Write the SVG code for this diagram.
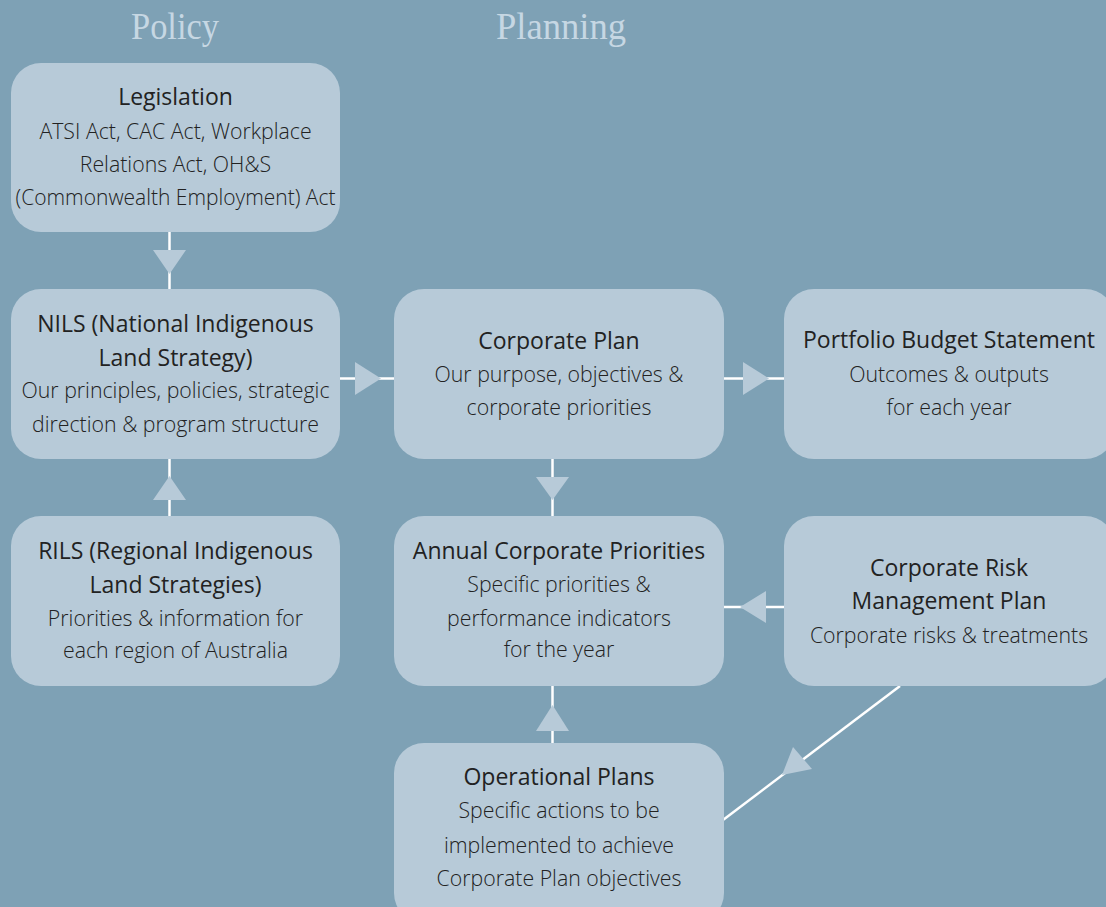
<svg xmlns="http://www.w3.org/2000/svg" width="1106" height="907" viewBox="0 0 1106 907">
<style>
.bg{fill:#7ea1b5}
.box{fill:#b7cad8}
.hdr{font-family:"Liberation Serif",serif;font-size:38px;fill:#c6d7e3;text-anchor:middle}
.t{font-family:"Open Sans","Noto Sans",sans-serif;font-size:21.3px;font-weight:300;fill:#222222;text-anchor:middle}
.b{font-weight:400;font-size:23px}
.ln{stroke:#ffffff;stroke-width:2.5;fill:none}
.ah{fill:#b7cad8}
</style>
<rect class="bg" x="0" y="0" width="1106" height="907"/>
<text class="hdr" x="175" y="39" textLength="88" lengthAdjust="spacingAndGlyphs">Policy</text>
<text class="hdr" x="561" y="39" textLength="130" lengthAdjust="spacingAndGlyphs">Planning</text>
<g id="connectors">
<line class="ln" x1="169.5" y1="232" x2="169.5" y2="289"/>
<polygon class="ah" points="153,250 186,250 169.5,274"/>
<line class="ln" x1="169.5" y1="459" x2="169.5" y2="516"/>
<polygon class="ah" points="153,500 186,500 169.5,476"/>
<line class="ln" x1="340" y1="378.5" x2="394" y2="378.5"/>
<polygon class="ah" points="355,362 355,395 381,378.5"/>
<line class="ln" x1="724" y1="378.5" x2="784" y2="378.5"/>
<polygon class="ah" points="743,362 743,395 769,378.5"/>
<line class="ln" x1="552.5" y1="459" x2="552.5" y2="516"/>
<polygon class="ah" points="536,477 569,477 552.5,500"/>
<line class="ln" x1="724" y1="607" x2="784" y2="607"/>
<polygon class="ah" points="766,591 766,623 740,607"/>
<line class="ln" x1="552.5" y1="686" x2="552.5" y2="743"/>
<polygon class="ah" points="536,731 569,731 552.5,705"/>
<line class="ln" x1="900" y1="686" x2="723" y2="820"/>
<polygon class="ah" points="793,747 812,769 782,775"/>
</g>
<g id="legislation">
<rect class="box" x="11" y="63" width="329" height="169" rx="30"/>
<text class="t b" x="175.5" y="105">Legislation</text>
<text class="t" x="175.5" y="139">ATSI Act, CAC Act, Workplace</text>
<text class="t" x="175.5" y="172">Relations Act, OH&amp;S</text>
<text class="t" x="175.5" y="205" textLength="320" lengthAdjust="spacingAndGlyphs">(Commonwealth Employment) Act</text>
</g>
<g id="nils">
<rect class="box" x="11" y="289" width="329" height="170" rx="30"/>
<text class="t b" x="175.5" y="332">NILS (National Indigenous</text>
<text class="t b" x="175.5" y="366">Land Strategy)</text>
<text class="t" x="175.5" y="398">Our principles, policies, strategic</text>
<text class="t" x="175.5" y="432">direction &amp; program structure</text>
</g>
<g id="corporate-plan">
<rect class="box" x="394" y="289" width="330" height="170" rx="30"/>
<text class="t b" x="559" y="349">Corporate Plan</text>
<text class="t" x="559" y="382">Our purpose, objectives &amp;</text>
<text class="t" x="559" y="415">corporate priorities</text>
</g>
<g id="portfolio">
<rect class="box" x="784" y="289" width="331" height="170" rx="30"/>
<text class="t b" x="949" y="348">Portfolio Budget Statement</text>
<text class="t" x="949" y="382">Outcomes &amp; outputs</text>
<text class="t" x="949" y="415">for each year</text>
</g>
<g id="rils">
<rect class="box" x="11" y="516" width="329" height="170" rx="30"/>
<text class="t b" x="175.5" y="559">RILS (Regional Indigenous</text>
<text class="t b" x="175.5" y="593">Land Strategies)</text>
<text class="t" x="175.5" y="626">Priorities &amp; information for</text>
<text class="t" x="175.5" y="658">each region of Australia</text>
</g>
<g id="annual">
<rect class="box" x="394" y="516" width="330" height="170" rx="30"/>
<text class="t b" x="559" y="559">Annual Corporate Priorities</text>
<text class="t" x="559" y="592">Specific priorities &amp;</text>
<text class="t" x="559" y="626">performance indicators</text>
<text class="t" x="559" y="657">for the year</text>
</g>
<g id="risk">
<rect class="box" x="784" y="516" width="331" height="170" rx="30"/>
<text class="t b" x="949" y="576">Corporate Risk</text>
<text class="t b" x="949" y="609">Management Plan</text>
<text class="t" x="949" y="643">Corporate risks &amp; treatments</text>
</g>
<g id="operational">
<rect class="box" x="394" y="743" width="330" height="180" rx="30"/>
<text class="t b" x="559" y="785">Operational Plans</text>
<text class="t" x="559" y="818">Specific actions to be</text>
<text class="t" x="559" y="853">implemented to achieve</text>
<text class="t" x="559" y="886">Corporate Plan objectives</text>
</g>
</svg>
